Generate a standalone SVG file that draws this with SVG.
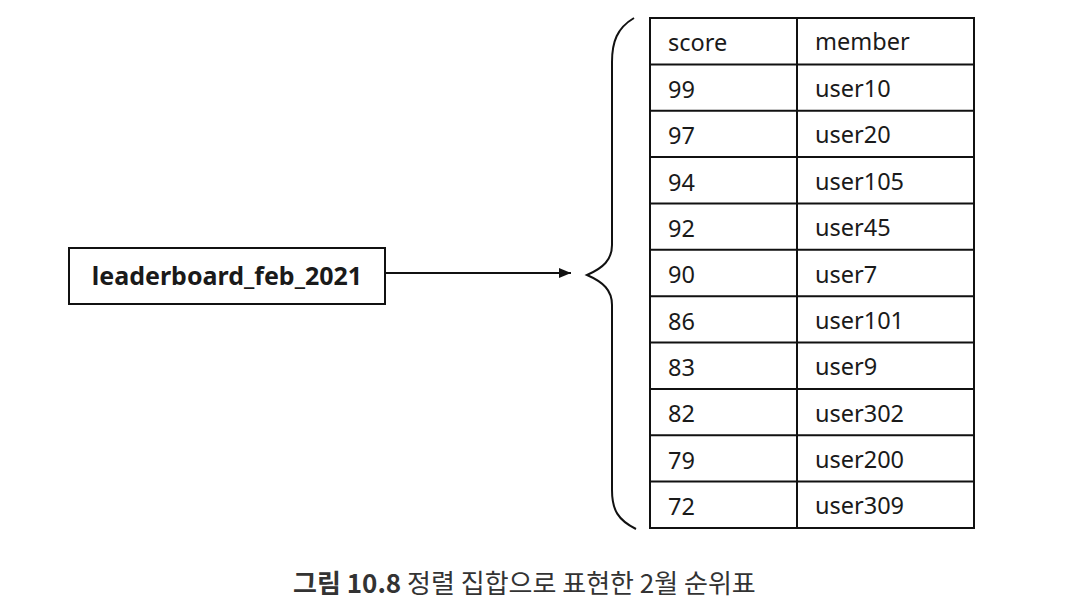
<svg xmlns="http://www.w3.org/2000/svg" width="1082" height="614" viewBox="0 0 1082 614">
<style>
.t{font-family:"Noto Sans","Open Sans","Noto Sans CJK KR",sans-serif;font-size:23.5px;fill:#1a1a1a}
.b{font-weight:bold;font-size:25px}
.ln{stroke:#111;stroke-width:2;fill:none}
.cap{font-family:"Noto Sans CJK KR","Noto Sans",sans-serif;font-size:26px;fill:#333}
</style>
<defs>
<marker id="ah" markerWidth="12" markerHeight="10" refX="12" refY="5" orient="auto" markerUnits="userSpaceOnUse">
<path d="M0,0 L12,5 L0,10 Z" fill="#111"/>
</marker>
</defs>
<rect width="1082" height="614" fill="#fff"/>
<g id="node-key">
<rect x="69" y="248" width="316" height="56" fill="#fff" stroke="#111" stroke-width="2"/>
<text class="t b" x="227" y="285" text-anchor="middle">leaderboard_feb_2021</text>
</g>
<g id="connectors">
<line x1="385" y1="273" x2="571" y2="273" stroke="#111" stroke-width="2" marker-end="url(#ah)"/>
<path id="brace" class="ln" d="M634,18 C617,28 612,42 612,62 L612,245 C612,260 603,268 587,275 C603,282 612,290 612,305 L612,490 C612,510 618,520 636,529"/>
</g>
<g id="node-table">
<rect class="ln" x="650" y="18" width="324" height="510"/>
<line class="ln" x1="797" y1="18" x2="797" y2="528"/>
<g class="ln">
<line x1="650" y1="64.4" x2="974" y2="64.4"/>
<line x1="650" y1="110.7" x2="974" y2="110.7"/>
<line x1="650" y1="157.1" x2="974" y2="157.1"/>
<line x1="650" y1="203.5" x2="974" y2="203.5"/>
<line x1="650" y1="249.8" x2="974" y2="249.8"/>
<line x1="650" y1="296.2" x2="974" y2="296.2"/>
<line x1="650" y1="342.5" x2="974" y2="342.5"/>
<line x1="650" y1="388.9" x2="974" y2="388.9"/>
<line x1="650" y1="435.3" x2="974" y2="435.3"/>
<line x1="650" y1="481.6" x2="974" y2="481.6"/>
</g>
<g class="t">
<text x="668" y="51">score</text><text x="815" y="50">member</text>
<text x="668" y="98">99</text><text x="815" y="97">user10</text>
<text x="668" y="144">97</text><text x="815" y="143">user20</text>
<text x="668" y="191">94</text><text x="815" y="190">user105</text>
<text x="668" y="237">92</text><text x="815" y="236">user45</text>
<text x="668" y="283">90</text><text x="815" y="283">user7</text>
<text x="668" y="330">86</text><text x="815" y="329">user101</text>
<text x="668" y="376">83</text><text x="815" y="375">user9</text>
<text x="668" y="422">82</text><text x="815" y="422">user302</text>
<text x="668" y="469">79</text><text x="815" y="468">user200</text>
<text x="668" y="515">72</text><text x="815" y="514">user309</text>
</g>
</g>
<text class="cap" x="293" y="593"><tspan font-weight="bold">그림 10.8</tspan> 정렬 집합으로 표현한 2월 순위표</text>
</svg>
